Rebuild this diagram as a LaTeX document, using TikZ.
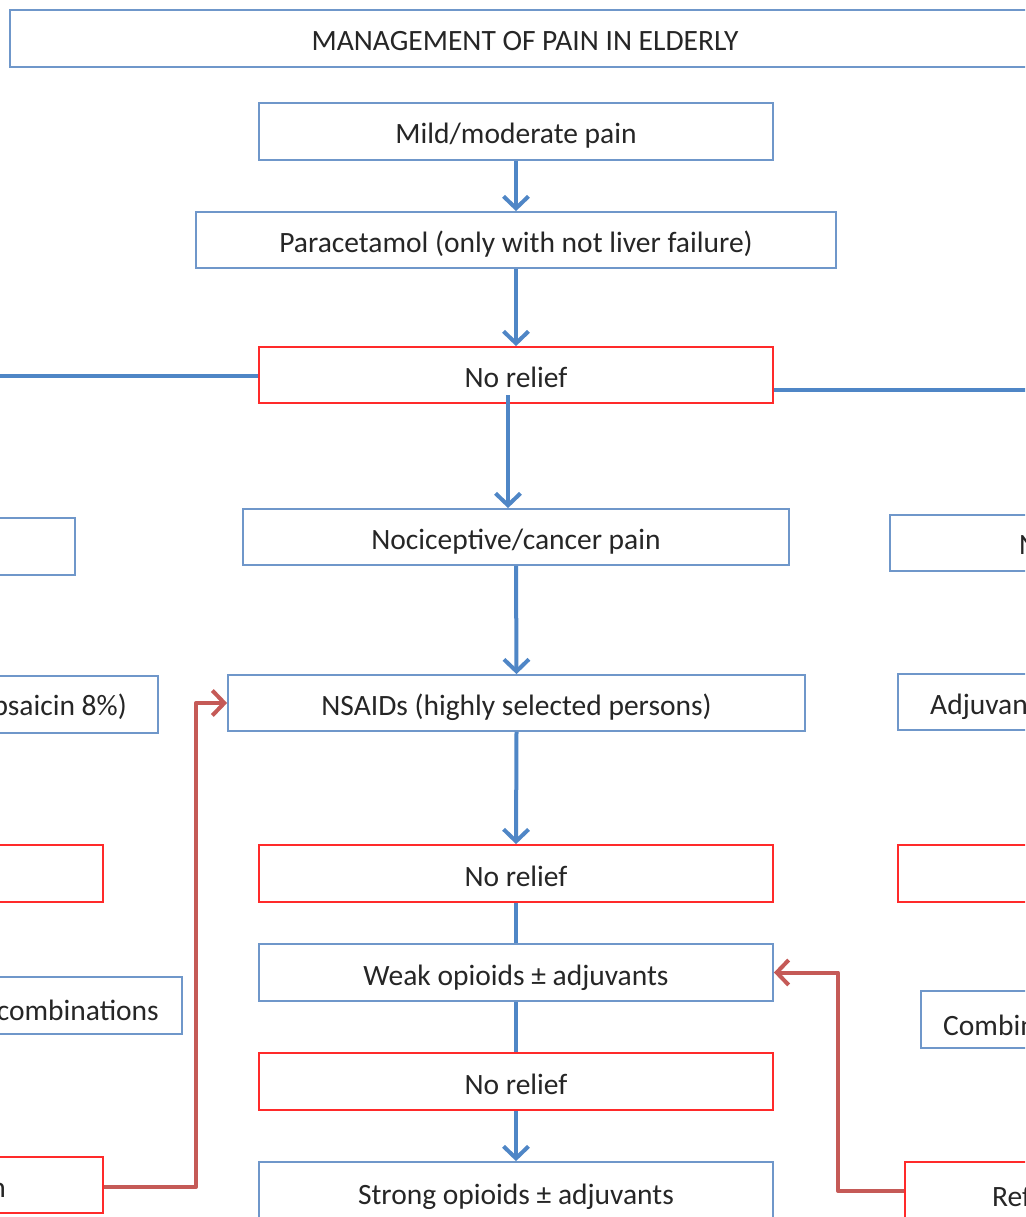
\documentclass[tikz,border=0pt]{standalone}
\usepackage{fontspec}
\setmainfont{Carlito}
\usetikzlibrary{arrows.meta}
\definecolor{boxblue}{HTML}{6F97CA}
\definecolor{boxred}{HTML}{FF2A2A}
\definecolor{lineblue}{HTML}{4F86C6}
\definecolor{linered}{HTML}{C55A57}
\definecolor{txt}{HTML}{262626}
\begin{document}
\begin{tikzpicture}[x=1pt,y=-1pt,
  box/.style={draw=boxblue, line width=1.8pt, rectangle, inner sep=0pt, fill=white,
    text=txt, font=\fontsize{29.5}{35}\selectfont, text height=25pt, text depth=0pt},
  redbox/.style={box, draw=boxred},
  lbl/.style={inner sep=0pt, text=txt, font=\fontsize{29.5}{35}\selectfont},
  flow/.style={draw=lineblue, line width=4pt},
  flowarrow/.style={flow, -{Straight Barb[length=12pt,width=25pt,line width=4pt]}},
  backarrow/.style={draw=linered, line width=4pt, line join=round,
    -{Straight Barb[length=12pt,width=25pt,line width=4pt]}}]
\useasboundingbox (0,0) rectangle (1025,1217);
\clip (0,0) rectangle (1025,1217);

% central pathway
\node[box, minimum width=1030pt, minimum height=57pt] (title) at (525,38.5) {MANAGEMENT OF PAIN IN ELDERLY};
\node[box, minimum width=514pt, minimum height=57pt] (mild) at (516,131.5) {Mild/moderate pain};
\node[box, minimum width=640pt, minimum height=56pt] (para) at (516,240) {Paracetamol (only with not liver failure)};
\node[redbox, minimum width=514pt, minimum height=56pt] (nr1) at (516,375) {No relief};
\node[box, minimum width=546pt, minimum height=56pt] (noci) at (516,537) {Nociceptive/cancer pain};
\node[box, minimum width=577pt, minimum height=56pt] (nsaid) at (516.5,703) {NSAIDs (highly selected persons)};
\node[redbox, minimum width=514pt, minimum height=57pt] (nr2) at (516,873.5) {No relief};
\node[box, minimum width=514pt, minimum height=57pt] (weak) at (516,972.5) {Weak opioids ± adjuvants};
\node[redbox, minimum width=514pt, minimum height=57pt] (nr3) at (516,1081.5) {No relief};
\node[box, minimum width=514pt, minimum height=60pt] (strong) at (516,1192) {Strong opioids ± adjuvants};

% left column
\node[box, minimum width=400pt, minimum height=57pt] (l1) at (-125,546.5) {};
\node[box, minimum width=500pt, minimum height=57pt] (l2) at (-92,704.5) {};
\node[lbl, anchor=east] (l2t) at (127,707) {capsaicin 8\%)};
\node[redbox, minimum width=400pt, minimum height=57pt] (l3) at (-97,873.5) {};
\node[box, minimum width=500pt, minimum height=57pt] (l4) at (-68,1005.5) {};
\node[lbl, anchor=east] (l4t) at (159,1010) {combinations};
\node[redbox, minimum width=400pt, minimum height=56pt] (l5) at (-97,1185) {};
\node[lbl, anchor=east] (l5t) at (6,1190) {n};

% right column
\node[box, minimum width=400pt, minimum height=56pt] (r1) at (1090,543) {};
\node[lbl, anchor=west] (r1t) at (1019,545) {N};
\node[box, minimum width=400pt, minimum height=56pt] (r2) at (1098,702) {};
\node[lbl, anchor=west] (r2t) at (930,707) {Adjuvant};
\node[redbox, minimum width=400pt, minimum height=57pt] (r3) at (1098,873.5) {};
\node[box, minimum width=400pt, minimum height=57pt] (r4) at (1121,1019.5) {};
\node[lbl, anchor=west] (r4t) at (943,1025) {Combin};
\node[redbox, minimum width=400pt, minimum height=60pt] (r5) at (1105,1192) {};
\node[lbl, anchor=west] (r5t) at (992,1196) {Ref};

% branches leaving the first "No relief"
\coordinate (offL) at (-60,376);
\coordinate (offR) at (1090,390);
\draw[flow] (nr1.west |- offL) -- (offL);
\draw[flow] (nr1.east |- offR) -- (offR);

% central connectors
\draw[flowarrow] (mild.south) -- (para.north);
\draw[flowarrow] (para.south) -- (nr1.north);
\draw[flowarrow] ([xshift=-8pt,yshift=-20pt]nr1.center) -- ([xshift=-8pt]noci.north);
\draw[flowarrow] (noci.south) -- (nsaid.north);
\draw[flowarrow] (nsaid.south) -- (nr2.north);
\draw[flow] (nr2.south) -- (weak.north);
\draw[flow] (weak.south) -- (nr3.north);
\draw[flowarrow] (nr3.south) -- (strong.north);

% referral loops back to the central pathway
\draw[backarrow] ([yshift=-2pt]l5.east) -- ++(92,0) |- (nsaid.west);
\draw[backarrow] ([yshift=1pt]r5.west) -- ++(-66,0) |- (weak.east);
\end{tikzpicture}
\end{document}
